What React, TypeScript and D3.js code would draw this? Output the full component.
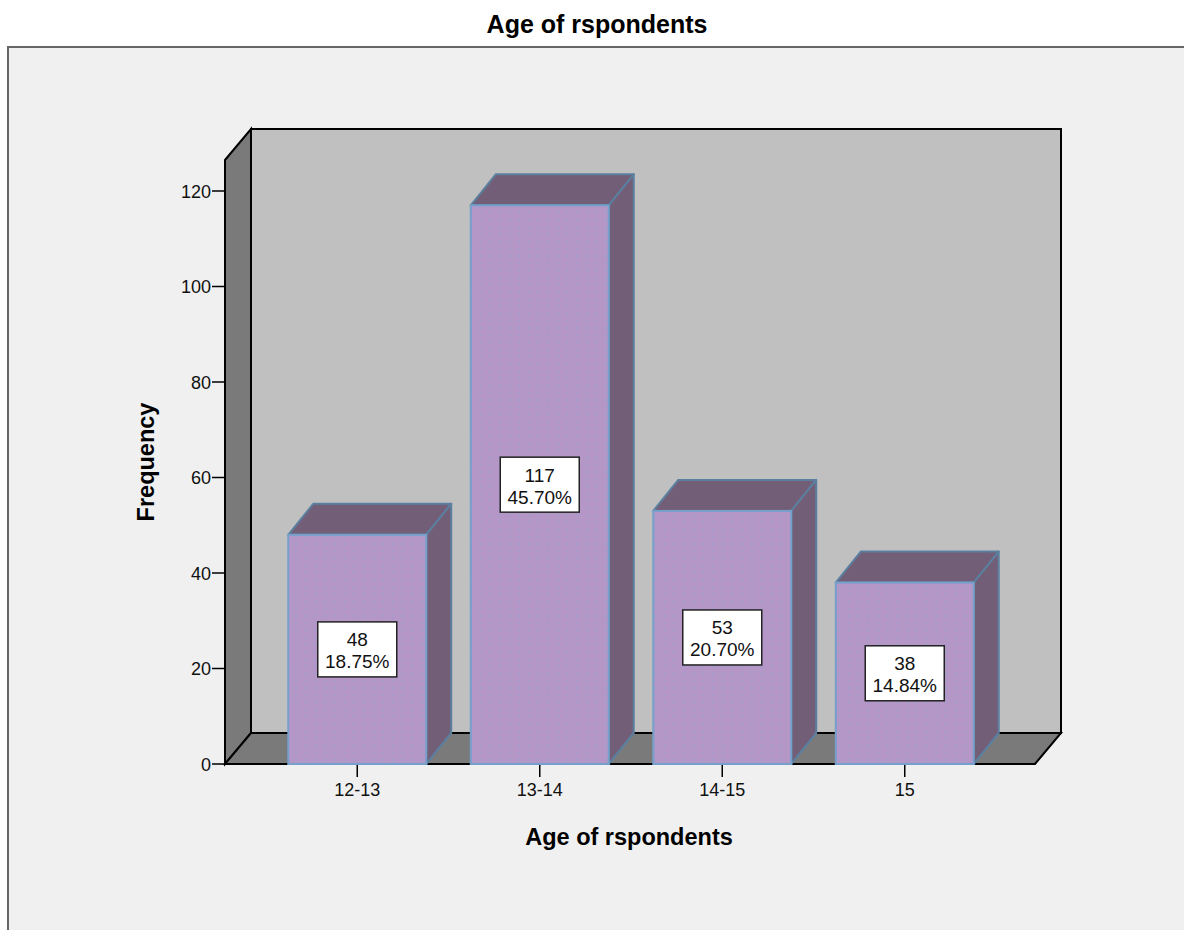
import React from "react";
import * as d3 from "d3";

const categories = ["12-13", "13-14", "14-15", "15"];
const frequencies = [48, 117, 53, 38];
const percents = ["18.75%", "45.70%", "20.70%", "14.84%"];
const yTicks = [0, 20, 40, 60, 80, 100, 120];
const chartTitle = "Age of rspondents";
const xTitle = "Age of rspondents";
const yTitle = "Frequency";

const FONT = "'Liberation Sans', Arial, sans-serif";
const DX = 26;
const DY = -31;
const X0 = 225;
const X1 = 1035;
const Y_TOP = 160;

const y = d3.scaleLinear().domain([0, 120]).range([764, 191]);
const x = d3.scaleBand<string>().domain(categories).range([266, 996]).paddingInner(0.244).paddingOuter(0.122);
const yMax = y.invert(Y_TOP);

const poly = (pts: [number, number][]) => d3.line()(pts)! + "Z";

export default function App() {
  const y0 = y(0);
  const yT = y(yMax);
  return (
    <svg width={1184} height={930} style={{ position: "fixed", left: 0, top: 0, display: "block" }} fontFamily={FONT}>
      <defs>
        <pattern id="dots" width={9.7} height={7.2} patternUnits="userSpaceOnUse">
          <rect width={9.7} height={7.2} fill="#b497c6" />
          <rect x={4} y={3} width={2} height={2} fill="#9f9ccf" />
        </pattern>
      </defs>
      <rect width={1184} height={930} fill="#fff" />
      <rect x={8} y={47} width={1180} height={890} fill="#f0f0f0" stroke="#666" strokeWidth={2} />
      <text x={597} y={33} textAnchor="middle" fontSize={25} fontWeight="bold" fill="#000">{chartTitle}</text>

      <path d={poly([[X0 + DX, yT + DY], [X1 + DX, yT + DY], [X1 + DX, y0 + DY], [X0 + DX, y0 + DY]])} fill="#c0c0c0" stroke="#000" strokeWidth={2} />
      <path d={poly([[X0, yT], [X0 + DX, yT + DY], [X0 + DX, y0 + DY], [X0, y0]])} fill="#7a7a7a" stroke="#000" strokeWidth={2} />
      <path d={poly([[X0, y0], [X1, y0], [X1 + DX, y0 + DY], [X0 + DX, y0 + DY]])} fill="#7a7a7a" stroke="#000" strokeWidth={2} />

      {yTicks.map((t) => (
        <g key={t}>
          <line x1={X0 - 13} x2={X0} y1={y(t)} y2={y(t)} stroke="#000" strokeWidth={1.5} />
          <text x={X0 - 14} y={y(t) + 6.5} textAnchor="end" fontSize={18} fill="#111">{t}</text>
        </g>
      ))}

      {categories.map((c, i) => {
        const bx = x(c)!;
        const bw = x.bandwidth();
        const top = y(frequencies[i]);
        const cx = bx + bw / 2;
        const cy = (top + y0) / 2;
        return (
          <g key={c}>
            <g stroke="#5b7f9f" strokeWidth={2} strokeLinejoin="round">
              <path d={poly([[bx, top], [bx + bw, top], [bx + bw + DX - 1, top + DY], [bx + DX - 1, top + DY]])} fill="#735e78" />
              <path d={poly([[bx + bw, top], [bx + bw + DX - 1, top + DY], [bx + bw + DX - 1, y0 + DY], [bx + bw, y0]])} fill="#735e78" />
            </g>
            <rect x={bx} y={top} width={bw} height={y0 - top} fill="url(#dots)" stroke="#74a0cb" strokeWidth={2} />
            <rect x={cx - 39.5} y={cy - 27.5} width={79} height={55} fill="#fff" stroke="#222" strokeWidth={1.5} />
            <text x={cx} y={cy - 3} textAnchor="middle" fontSize={19} fill="#111">{frequencies[i]}</text>
            <text x={cx} y={cy + 19} textAnchor="middle" fontSize={19} fill="#111">{percents[i]}</text>
            <line x1={cx} x2={cx} y1={y0 + 1} y2={y0 + 13} stroke="#000" strokeWidth={1.5} />
            <text x={cx} y={y0 + 32} textAnchor="middle" fontSize={18} fill="#111">{c}</text>
          </g>
        );
      })}

      <text x={629} y={845} textAnchor="middle" fontSize={23.5} fontWeight="bold" fill="#000">{xTitle}</text>
      <text transform="translate(154,462) rotate(-90)" textAnchor="middle" fontSize={23.5} fontWeight="bold" fill="#000">{yTitle}</text>
    </svg>
  );
}
